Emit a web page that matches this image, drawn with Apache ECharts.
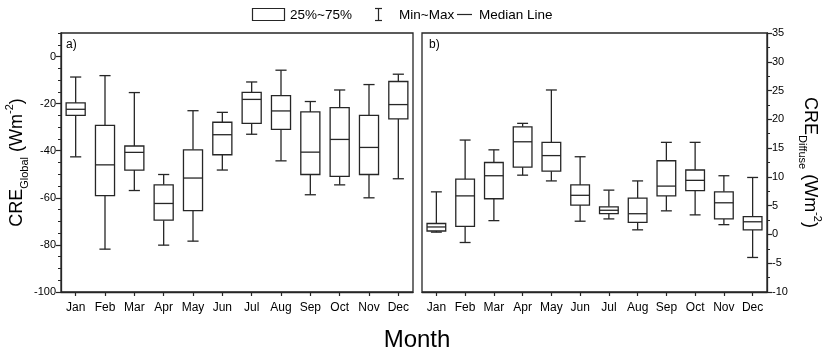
<!DOCTYPE html>
<html>
<head>
<meta charset="utf-8">
<script src="https://cdn.jsdelivr.net/npm/echarts@6/dist/echarts.min.js"></script>
<style>
  html, body { margin: 0; padding: 0; background: #fff; }
  #chart { width: 824px; height: 355px; }
</style>
</head>
<body>
<div id="chart"></div>
<script>
// Monthly cloud radiative effect statistics (W m-2)
const months = ['Jan', 'Feb', 'Mar', 'Apr', 'May', 'Jun', 'Jul', 'Aug', 'Sep', 'Oct', 'Nov', 'Dec'];

// Panel a) global CRE
const globalMin    = [-42.6, -81.8, -56.9, -80.1, -78.4, -48.2, -33.0, -44.3, -58.7, -54.5, -60.0, -51.9];
const globalQ1     = [-25.0, -59.1, -48.2, -69.5, -65.4, -41.7, -28.4, -30.9, -50.1, -50.9, -50.1, -26.5];
const globalMedian = [-22.4, -46.0, -40.7, -62.4, -51.6, -33.2, -18.2, -23.1, -40.6, -35.2, -38.6, -20.4];
const globalQ3     = [-19.7, -29.2, -38.0, -54.5, -39.6, -27.9, -15.2, -16.6, -23.5, -21.7, -25.0, -10.6];
const globalMax    = [ -8.7,  -8.1, -15.3, -50.1, -23.0, -23.7, -10.8,  -5.8, -19.1, -14.2, -11.9,  -7.5];

// Panel b) diffuse CRE
const diffuseMin    = [0.4, -1.4,  2.4, 10.3,  9.3,  2.3, 2.7, 0.8,  4.1,  3.4,  1.7, -4.0];
const diffuseQ1     = [0.6,  1.4,  6.2, 11.7, 11.0,  5.1, 3.6, 2.1,  6.7,  7.6,  2.7,  0.8];
const diffuseMedian = [1.3,  6.7, 10.2, 16.1, 13.7,  6.8, 4.2, 3.6,  8.4,  9.4,  5.5,  2.2];
const diffuseQ3     = [1.9,  9.6, 12.5, 18.7, 16.0,  8.6, 4.8, 6.3, 12.8, 11.2,  7.4,  3.1];
const diffuseMax    = [7.4, 16.4, 14.7, 19.3, 25.1, 13.5, 7.7, 9.3, 16.0, 16.0, 10.2,  9.9];

const legendLabels = ['25%~75%', 'Min~Max', 'Median Line'];

const FONT = '"Liberation Sans", Arial, sans-serif';
const INK = '#262626';

function rows(mins, q1s, meds, q3s, maxs) {
  return months.map((m, i) => [i, mins[i], q1s[i], meds[i], q3s[i], maxs[i]]);
}

// Box with short whisker caps, drawn in data coordinates
function boxItem(params, api) {
  const i = api.value(0);
  const pMin = api.coord([i, api.value(1)]);
  const pQ1 = api.coord([i, api.value(2)]);
  const pMed = api.coord([i, api.value(3)]);
  const pQ3 = api.coord([i, api.value(4)]);
  const pMax = api.coord([i, api.value(5)]);
  const band = api.size([1, 0])[0];
  const half = band * 0.325;
  const cap = band * 0.19;
  const cx = pMed[0];
  const s = { stroke: INK, lineWidth: 1.3, fill: null };
  return {
    type: 'group',
    children: [
      { type: 'line', shape: { x1: cx, y1: pMax[1], x2: cx, y2: pQ3[1] }, style: s },
      { type: 'line', shape: { x1: cx, y1: pQ1[1], x2: cx, y2: pMin[1] }, style: s },
      { type: 'line', shape: { x1: cx - cap, y1: pMax[1], x2: cx + cap, y2: pMax[1] }, style: s },
      { type: 'line', shape: { x1: cx - cap, y1: pMin[1], x2: cx + cap, y2: pMin[1] }, style: s },
      { type: 'rect', shape: { x: cx - half, y: pQ3[1], width: 2 * half, height: pQ1[1] - pQ3[1] },
        style: { stroke: INK, lineWidth: 1.3, fill: '#fff' } },
      { type: 'line', shape: { x1: cx - half, y1: pMed[1], x2: cx + half, y2: pMed[1] }, style: s }
    ]
  };
}

const nameRich = {
  main: { fontSize: 18, fontFamily: FONT, color: '#000', lineHeight: 26 },
  sub: { fontSize: 11, fontFamily: FONT, color: '#000', verticalAlign: 'bottom', lineHeight: 12 },
  sup: { fontSize: 11, fontFamily: FONT, color: '#000', verticalAlign: 'top', lineHeight: 12 }
};

const xAxisBase = {
  type: 'category',
  data: months,
  boundaryGap: true,
  axisLine: { show: true, onZero: false, lineStyle: { color: INK, width: 1.3 } },
  axisTick: { show: true, alignWithLabel: true, length: 4, lineStyle: { color: INK, width: 1.2 } },
  axisLabel: { color: '#000', fontSize: 12, fontFamily: FONT, margin: 10, interval: 0 },
  splitLine: { show: false }
};

const chart = echarts.init(document.getElementById('chart'), null, { renderer: 'canvas' });

chart.setOption({
  animation: false,
  backgroundColor: '#fff',
  grid: [
    { left: 61, top: 33, width: 352, height: 259, show: true, borderColor: INK, borderWidth: 1.3, containLabel: false },
    { left: 422, top: 33, width: 352, height: 259, show: true, borderColor: INK, borderWidth: 1.3, containLabel: false }
  ],
  xAxis: [
    Object.assign({ gridIndex: 0 }, xAxisBase),
    Object.assign({ gridIndex: 1 }, xAxisBase)
  ],
  yAxis: [
    {
      gridIndex: 0, type: 'value', position: 'left',
      min: -100, max: 10, interval: 20,
      axisLine: { show: true, onZero: false, lineStyle: { color: INK, width: 1.3 } },
      axisTick: { show: true, length: 5, lineStyle: { color: INK, width: 1.2 } },
      axisLabel: { color: '#000', fontSize: 11, fontFamily: FONT, margin: 5, showMaxLabel: false },
      splitLine: { show: false },
      name: '{main|CRE}{sub|Global}{main| (Wm}{sup|-2}{main|)}',
      nameLocation: 'middle', nameGap: 29,
      nameTextStyle: { rich: nameRich }
    },
    {
      // minor ticks every 5 units on the left axis
      gridIndex: 0, type: 'value', position: 'left',
      min: -100, max: 10, interval: 5,
      axisLine: { show: false, onZero: false },
      axisTick: { show: true, length: 3, lineStyle: { color: INK, width: 1 } },
      axisLabel: { show: false },
      splitLine: { show: false }
    },
    {
      gridIndex: 1, type: 'value', position: 'right',
      min: -10, max: 35, interval: 5,
      axisLine: { show: true, onZero: false, lineStyle: { color: INK, width: 1.3 } },
      axisTick: { show: true, length: 5, lineStyle: { color: INK, width: 1.2 } },
      minorTick: { show: true, splitNumber: 2, length: 3, lineStyle: { color: INK, width: 1 } },
      axisLabel: { color: '#000', fontSize: 11, fontFamily: FONT, margin: 5 },
      splitLine: { show: false },
      name: '{main|CRE}{sub|Diffuse}{main| (Wm}{sup|-2}{main|)}',
      nameLocation: 'middle', nameGap: 30, nameRotate: -90,
      nameTextStyle: { rich: nameRich }
    }
  ],
  series: [
    {
      type: 'custom', name: 'CRE Global', xAxisIndex: 0, yAxisIndex: 0,
      renderItem: boxItem, encode: { x: 0, y: [1, 2, 3, 4, 5] },
      data: rows(globalMin, globalQ1, globalMedian, globalQ3, globalMax)
    },
    {
      type: 'custom', name: 'CRE Diffuse', xAxisIndex: 1, yAxisIndex: 2,
      renderItem: boxItem, encode: { x: 0, y: [1, 2, 3, 4, 5] },
      data: rows(diffuseMin, diffuseQ1, diffuseMedian, diffuseQ3, diffuseMax)
    }
  ],
  graphic: [
    // panel tags
    { type: 'text', left: 66, top: 39, style: { text: 'a)', fontSize: 12, fontFamily: FONT, fill: '#000' } },
    { type: 'text', left: 429, top: 39, style: { text: 'b)', fontSize: 12, fontFamily: FONT, fill: '#000' } },
    // shared x title
    { type: 'text', x: 417, y: 340, style: { text: 'Month', fontSize: 24, fontFamily: FONT, fill: '#000', textAlign: 'center', textVerticalAlign: 'middle' } },
    // legend: box
    { type: 'rect', shape: { x: 252.5, y: 8.5, width: 32, height: 12 }, style: { stroke: INK, lineWidth: 1.2, fill: '#fff' } },
    { type: 'text', x: 290, y: 15, style: { text: legendLabels[0], fontSize: 13.5, fontFamily: FONT, fill: '#000', textVerticalAlign: 'middle' } },
    // legend: whisker
    { type: 'line', shape: { x1: 378.5, y1: 8.5, x2: 378.5, y2: 20.5 }, style: { stroke: INK, lineWidth: 1.2 } },
    { type: 'line', shape: { x1: 375, y1: 8.5, x2: 382, y2: 8.5 }, style: { stroke: INK, lineWidth: 1.2 } },
    { type: 'line', shape: { x1: 375, y1: 20.5, x2: 382, y2: 20.5 }, style: { stroke: INK, lineWidth: 1.2 } },
    { type: 'text', x: 399, y: 15, style: { text: legendLabels[1], fontSize: 13.5, fontFamily: FONT, fill: '#000', textVerticalAlign: 'middle' } },
    // legend: median line
    { type: 'line', shape: { x1: 457, y1: 14.5, x2: 472, y2: 14.5 }, style: { stroke: INK, lineWidth: 1.2 } },
    { type: 'text', x: 479, y: 15, style: { text: legendLabels[2], fontSize: 13.5, fontFamily: FONT, fill: '#000', textVerticalAlign: 'middle' } }
  ]
});
</script>
</body>
</html>
